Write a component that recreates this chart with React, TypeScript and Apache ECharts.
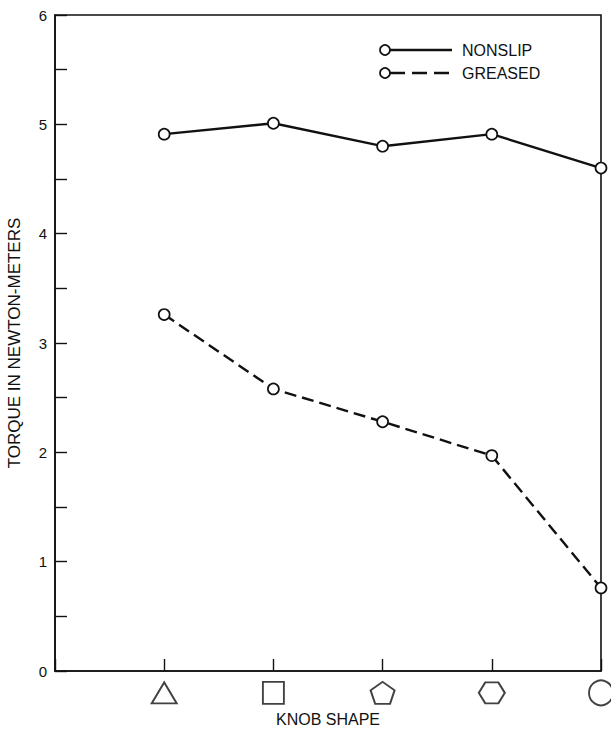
import React, { useEffect, useRef } from "react";
import * as echarts from "echarts";

const knobPositions = [1, 2, 3, 4, 5];
const nonslipValues = [4.91, 5.01, 4.8, 4.91, 4.6];
const greasedValues = [3.26, 2.58, 2.28, 1.97, 0.76];
const yTickValues = [0, 1, 2, 3, 4, 5, 6];
const shapeRowValue = -0.2;
const shapeSymbols = [
  "triangle",
  "rect",
  "path://M0,-10 L9.51,-3.09 L5.88,8.09 L-5.88,8.09 L-9.51,-3.09 Z",
  "path://M-10,0 L-5,-8.66 L5,-8.66 L10,0 L5,8.66 L-5,8.66 Z",
  "circle",
];
const shapeSizes: [number, number][] = [
  [25, 21],
  [21, 22],
  [24, 22],
  [26, 21],
  [24, 25],
];

const FONT = "'Liberation Sans', Arial, Helvetica, sans-serif";
const INK = "#111";

export default function App() {
  const ref = useRef<HTMLDivElement>(null);
  useEffect(() => {
    document.body.style.margin = "0";
    if (!ref.current) return;
    const chart = echarts.init(ref.current, undefined, { renderer: "svg" });
    const lineSeries = (name: string, values: number[], dashed: boolean) => ({
      name,
      type: "line",
      data: knobPositions.map((x, i) => [x, values[i]]),
      clip: false,
      symbol: "circle",
      symbolSize: 11,
      lineStyle: {
        color: INK,
        width: 2.4,
        type: dashed ? [12, 6] : "solid",
      },
      itemStyle: { color: "#fff", borderColor: INK, borderWidth: 1.7 },
      z: 3,
    });
    chart.setOption({
      animation: false,
      backgroundColor: "#fff",
      textStyle: { fontFamily: FONT },
      grid: {
        left: 55,
        right: 10,
        top: 15,
        bottom: 58,
        containLabel: false,
        outerBoundsMode: "none",
        show: true,
        borderColor: INK,
        borderWidth: 1.6,
        backgroundColor: "transparent",
      },
      xAxis: {
        type: "value",
        min: 0,
        max: 5,
        interval: 1,
        name: "KNOB SHAPE",
        nameLocation: "middle",
        nameGap: 40,
        nameTextStyle: { fontSize: 16, color: INK, fontFamily: FONT },
        axisLine: { show: true, lineStyle: { color: INK, width: 1.6 } },
        axisTick: { show: true, inside: true, length: 12, lineStyle: { color: INK, width: 1.4 } },
        axisLabel: { show: false },
        splitLine: { show: false },
      },
      yAxis: {
        type: "value",
        min: 0,
        max: 6,
        interval: 0.5,
        name: "TORQUE IN NEWTON-METERS",
        nameLocation: "middle",
        nameGap: 32,
        nameTextStyle: { fontSize: 17, color: INK, fontFamily: FONT },
        axisLine: { show: true, lineStyle: { color: INK, width: 1.6 } },
        axisTick: { show: true, inside: true, length: 12, lineStyle: { color: INK, width: 1.4 } },
        axisLabel: {
          fontSize: 15,
          color: INK,
          margin: 8,
          fontFamily: FONT,
          formatter: (v: number) => (yTickValues.includes(v) ? String(v) : ""),
        },
        splitLine: { show: false },
      },
      series: [
        lineSeries("NONSLIP", nonslipValues, false),
        lineSeries("GREASED", greasedValues, true),
        {
          name: "shapes",
          type: "scatter",
          clip: false,
          silent: true,
          data: knobPositions.map((x, i) => ({
            value: [x, shapeRowValue],
            symbol: shapeSymbols[i],
            symbolSize: shapeSizes[i],
          })),
          itemStyle: { color: "#fff", borderColor: INK, borderWidth: 1.9 },
        },
      ],
      graphic: [
        { type: "line", shape: { x1: 390, y1: 50, x2: 452, y2: 50 }, style: { stroke: INK, lineWidth: 2.4 } },
        { type: "circle", shape: { cx: 385, cy: 50, r: 5 }, style: { fill: "#fff", stroke: INK, lineWidth: 1.7 }, z: 10 },
        { type: "text", x: 462, y: 50, style: { text: "NONSLIP", fontSize: 16, fontFamily: FONT, fill: INK, verticalAlign: "middle" } },
        { type: "line", shape: { x1: 390, y1: 73, x2: 452, y2: 73 }, style: { stroke: INK, lineWidth: 2.4, lineDash: [15, 7] } },
        { type: "circle", shape: { cx: 385, cy: 73, r: 5 }, style: { fill: "#fff", stroke: INK, lineWidth: 1.7 }, z: 10 },
        { type: "text", x: 462, y: 73, style: { text: "GREASED", fontSize: 16, fontFamily: FONT, fill: INK, verticalAlign: "middle" } },
      ],
    });
    return () => chart.dispose();
  }, []);
  return <div ref={ref} style={{ width: 611, height: 729 }} />;
}
